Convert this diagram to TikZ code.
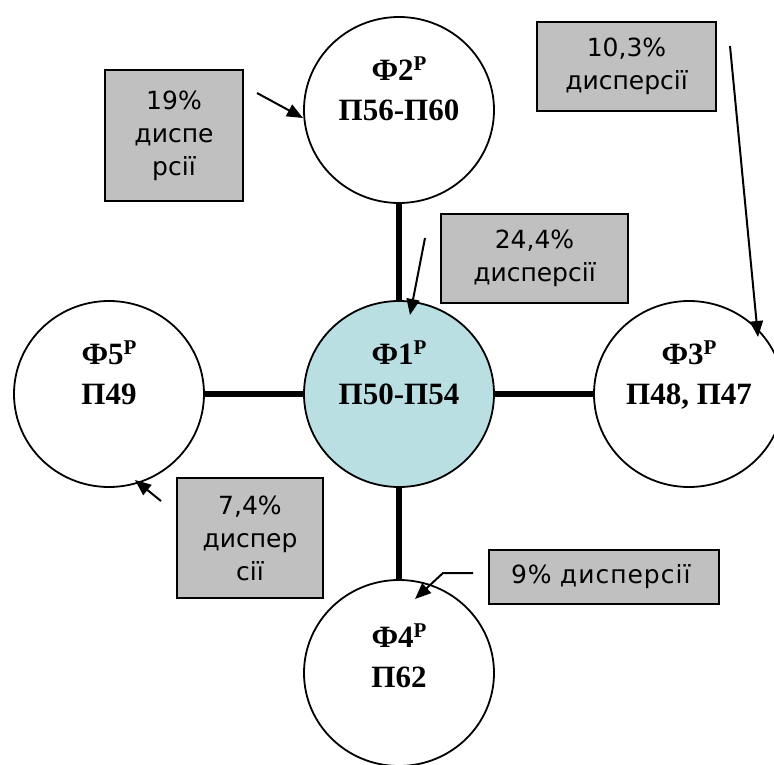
\documentclass[tikz,border=0pt]{standalone}
\usepackage{fontspec}
\setmainfont{Liberation Serif}
\newfontfamily\boxfont{DejaVu Sans}
\usetikzlibrary{arrows.meta,calc,shapes.geometric}
\definecolor{boxgray}{HTML}{C0C0C0}
\definecolor{centerblue}{HTML}{BADFE3}
\newcommand\supP{\raisebox{10pt}{\fontsize{21}{21}\selectfont Р}}
\begin{document}
\begin{tikzpicture}[x=1pt,y=-1pt,
  circ/.style={ellipse, draw, line width=1.8pt, minimum width=190pt, minimum height=186pt, inner sep=0pt, fill=white},
  ctext/.style={font=\fontsize{31}{40}\selectfont\bfseries, align=center, inner sep=0pt, anchor=north},
  pbox/.style={draw, line width=2pt, fill=boxgray, font=\boxfont\fontsize{25}{33}\selectfont, align=center, anchor=north west, inner sep=0pt},
  link/.style={line width=5.5pt},
  arr/.style={line width=2pt, -{Triangle[length=16pt,width=13pt]}}]
\useasboundingbox (0,0) rectangle (774,765);

% circles
\node[circ, fill=centerblue] (f1) at (399,394) {};
\node[circ] (f2) at (399,110) {};
\node[circ] (f3) at (689,394) {};
\node[circ] (f4) at (399,673) {};
\node[circ] (f5) at (109,394) {};

% circle texts
\node[ctext] (t1) at ($(f1.center)+(0,-53)$) {Ф1\supP\\П50-П54};
\node[ctext] (t2) at ($(f2.center)+(0,-53)$) {Ф2\supP\\П56-П60};
\node[ctext] (t3) at ($(f3.center)+(0,-53)$) {Ф3\supP\\П48, П47};
\node[ctext] (t4) at ($(f4.center)+(0,-49)$) {Ф4\supP\\П62};
\node[ctext] (t5) at ($(f5.center)+(0,-53)$) {Ф5\supP\\П49};

% thick links
\draw[link] (f2) -- (f1);
\draw[link] (f1) -- (f5);
\draw[link] (f1) -- (f3);
\draw[link] (f1) -- (f4);

% variance boxes
\node[pbox, minimum width=138pt, minimum height=131pt] (b19) at (104,69) {19\%\\диспе\\рсії};
\node[pbox, minimum width=179pt, minimum height=89pt] (b103) at (536,21) {10,3\%\\дисперсії};
\node[pbox, minimum width=187pt, minimum height=89pt] (b244) at (440,213) {24,4\%\\дисперсії};
\node[pbox, minimum width=146pt, minimum height=120pt] (b74) at (176,477) {7,4\%\\диспер\\сії};
\node[pbox, minimum height=54pt, text width=186pt, align=left, inner xsep=22pt] (b9) at (488,549) {\addfontfeature{LetterSpace=4}9\% дисперсії};

% arrows
\coordinate (s19) at (257,93);
\coordinate (s103) at (730,46);
\coordinate (s244) at (425,238);
\coordinate (s74) at (161,501);
\coordinate (s9a) at (473,573);
\coordinate (s9b) at (443,573);
\draw[arr] (s19) -- ($(f2.center)+(-96,8)$);
\draw[arr] (s103) -- ($(f3.center)+(69,-57)$);
\draw[arr] (s244) -- ($(f1.center)+(11,-79)$);
\draw[arr] (s74) -- ($(f5.center)+(26,86)$);
\draw[arr] (s9a) -- (s9b) -- ($(f4.center)+(16,-74)$);
\end{tikzpicture}
\end{document}
